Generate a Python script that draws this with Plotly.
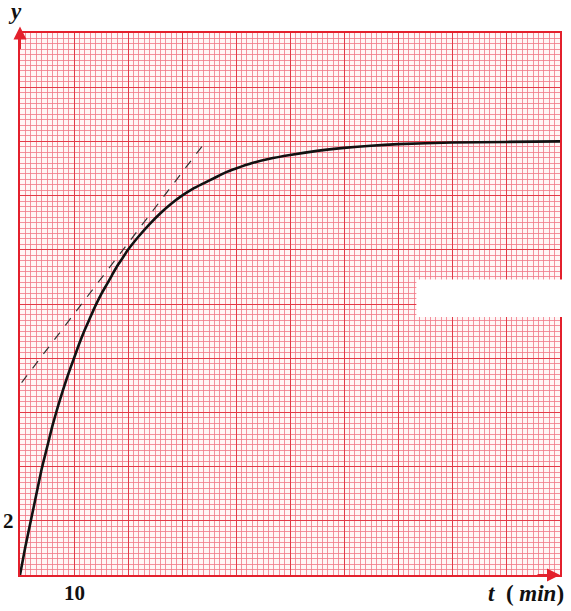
import plotly.graph_objects as go

# Data
t_curve = [0, 1, 2, 3, 4, 5, 6, 7, 8, 9, 10, 11, 12, 13, 14, 15, 16, 17, 18, 19, 20, 22, 24, 26, 28, 30,
           32, 34, 36, 38, 40, 43, 46, 50, 55, 60, 65, 70, 80, 90, 100]
y_curve = [0, 1.05, 2.0, 2.95, 3.9, 4.7, 5.5, 6.2, 6.85, 7.45, 8.0, 8.55, 9.05, 9.5, 9.95, 10.35, 10.7, 11.05,
           11.4, 11.7, 12.0, 12.5, 12.95, 13.35, 13.7, 14.0, 14.25, 14.45, 14.65, 14.85, 15.0, 15.2, 15.35,
           15.5, 15.65, 15.76, 15.84, 15.9, 15.96, 15.98, 16.0]
t_tangent = [0.3, 34.4]
y_tangent = [7.1, 16.0]

x_label_val, x_label_text = 10, "10"
y_label_val, y_label_text = 2, "2"

X_MAX, Y_MAX = 100, 20

RED = "#e3202c"
MINOR = "rgba(240,120,135,0.80)"
MAJOR = "#e23a48"

fig = go.Figure()

fig.add_trace(go.Scatter(x=t_tangent, y=y_tangent, mode="lines",
                         line=dict(color="#333333", width=1.2, dash="dash"),
                         hoverinfo="skip", showlegend=False))
fig.add_trace(go.Scatter(x=t_curve, y=y_curve, mode="lines",
                         line=dict(color="#111111", width=2.6, shape="spline", smoothing=0.5),
                         showlegend=False))

axis_common = dict(showticklabels=False, ticks="", zeroline=False,
                   showline=True, linecolor=RED, linewidth=2, mirror=True,
                   gridcolor=MAJOR, gridwidth=1.4)

fig.update_xaxes(range=[0, X_MAX], dtick=10, tick0=0,
                 minor=dict(dtick=1, showgrid=True, gridcolor=MINOR, gridwidth=1),
                 **axis_common)
fig.update_yaxes(range=[0, Y_MAX], dtick=2, tick0=0,
                 minor=dict(dtick=0.2, showgrid=True, gridcolor=MINOR, gridwidth=1),
                 **axis_common)

fig.update_layout(
    width=571, height=611,
    margin=dict(l=20, r=9, t=33, b=36),
    paper_bgcolor="white", plot_bgcolor="#fff6f6",
    showlegend=False,
)

# White masking box
fig.add_shape(type="rect", xref="paper", yref="y", x0=0.734, x1=1.01, y0=9.52, y1=10.9,
              fillcolor="white", line=dict(width=0), layer="above")

# Axis arrows
fig.add_annotation(x=0, y=1.012, xref="paper", yref="paper", ax=0, ay=24,
                   showarrow=True, arrowhead=2, arrowsize=1.3, arrowwidth=2, arrowcolor=RED, text="")
fig.add_annotation(x=1.0, y=0, xref="paper", yref="paper", ax=-24, ay=0,
                   showarrow=True, arrowhead=2, arrowsize=1.3, arrowwidth=2, arrowcolor=RED, text="")

serif = "Liberation Serif"
fig.add_annotation(x=-0.01, y=1.012, xref="paper", yref="paper", xanchor="center", yanchor="bottom",
                   text="<b><i>y</i></b>", showarrow=False, font=dict(family=serif, size=23, color="#111"))
fig.add_annotation(x=-0.022, y=y_label_val / Y_MAX, xref="paper", yref="paper", xanchor="center", yanchor="middle",
                   text="<b>" + y_label_text + "</b>", showarrow=False, font=dict(family=serif, size=21, color="#111"))
fig.add_annotation(x=x_label_val / X_MAX, y=-0.008, xref="paper", yref="paper", xanchor="center", yanchor="top",
                   text="<b>" + x_label_text + "</b>", showarrow=False, font=dict(family=serif, size=21, color="#111"))
fig.add_annotation(x=1.012, y=-0.008, xref="paper", yref="paper", xanchor="right", yanchor="top",
                   text="<b><i>t</i>&nbsp;&nbsp;(&nbsp;<i>min</i>)</b>", showarrow=False,
                   font=dict(family=serif, size=23, color="#111"))

fig.write_html("out.html", config={"displayModeBar": False},
               post_script="document.body.style.margin='0';document.body.style.overflow='hidden';")
